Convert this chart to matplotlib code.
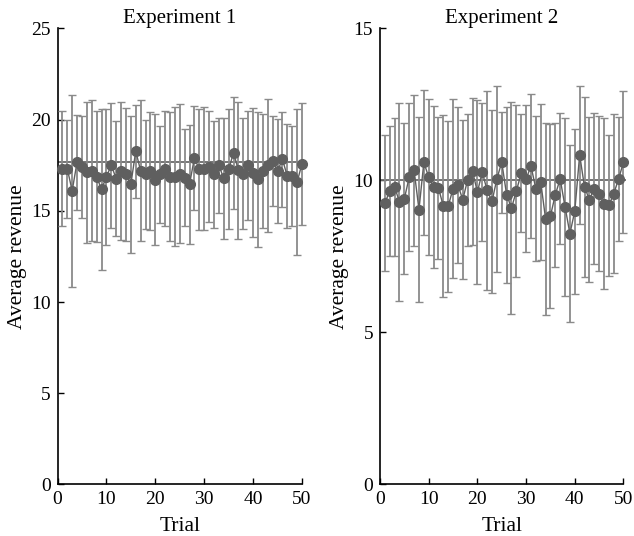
import numpy as np
import matplotlib
matplotlib.use("Agg")
import matplotlib.pyplot as plt

plt.rcParams['font.family'] = ['Liberation Serif', 'DejaVu Serif']
plt.rcParams['mathtext.fontset'] = 'stix'

trials = np.arange(1, 51)

# Experiment 1: mean revenue per trial and half-width of the error bar
exp1_mean = [17.3, 17.3, 16.1, 17.67, 17.4, 17.1, 17.2, 16.87, 16.17, 16.87,
             17.5, 16.76, 17.18, 17.0, 16.45, 18.27, 17.2, 17.0, 17.18, 16.7,
             17.0, 17.3, 16.87, 16.87, 17.03, 16.8, 16.45, 17.9, 17.27, 17.3,
             17.42, 17.0, 17.49, 16.78, 17.27, 18.18, 17.23, 17.03, 17.49, 17.09,
             16.72, 17.18, 17.49, 17.73, 17.18, 17.82, 16.9, 16.9, 16.57, 17.58]
exp1_err = [3.16, 2.68, 5.25, 2.6, 2.8, 3.85, 3.85, 3.6, 4.42, 3.73,
            3.43, 3.15, 3.77, 3.65, 3.75, 2.55, 3.88, 2.97, 3.22, 3.6,
            2.65, 3.15, 3.52, 3.8, 3.8, 2.66, 3.28, 2.83, 3.33, 3.37,
            3.03, 2.94, 2.59, 3.3, 3.29, 3.06, 3.75, 3.03, 3.0, 3.55,
            3.69, 3.11, 3.65, 2.44, 2.85, 2.61, 2.86, 2.76, 4.0, 3.35]
exp1_level = 17.65

# Experiment 2
exp2_mean = [9.26, 9.65, 9.78, 9.29, 9.4, 10.11, 10.33, 9.04, 10.59, 10.11,
             9.78, 9.76, 9.15, 9.15, 9.73, 9.84, 9.37, 10.02, 10.3, 9.62,
             10.27, 9.67, 9.31, 10.05, 10.6, 9.53, 9.09, 9.65, 10.24, 10.05,
             10.47, 9.73, 9.95, 8.74, 8.83, 9.53, 10.05, 9.13, 8.25, 8.99,
             10.84, 9.78, 9.37, 9.73, 9.56, 9.24, 9.18, 9.56, 10.05, 10.6]
exp2_err = [2.23, 2.14, 2.28, 3.25, 2.49, 2.43, 2.48, 3.05, 2.37, 2.56,
            2.67, 2.33, 3.0, 2.81, 2.95, 2.56, 2.6, 2.17, 2.41, 3.03,
            2.27, 3.28, 3.0, 3.06, 1.66, 2.9, 3.49, 2.83, 1.93, 2.42,
            2.38, 2.39, 2.56, 3.15, 3.01, 2.37, 2.15, 2.92, 2.92, 2.71,
            2.28, 2.96, 2.7, 2.47, 2.55, 2.82, 2.32, 2.61, 2.04, 2.34]
exp2_level = 10.0

panels = [
    ("Experiment 1", exp1_mean, exp1_err, exp1_level, 25, [0, 5, 10, 15, 20, 25]),
    ("Experiment 2", exp2_mean, exp2_err, exp2_level, 15, [0, 5, 10, 15]),
]

fig = plt.figure(figsize=(6.34, 5.36), dpi=100)
rects = [[0.0907, 0.0961, 0.3856, 0.851], [0.5994, 0.0961, 0.384, 0.851]]

for rect, (title, mean, err, level, ymax, yticks) in zip(rects, panels):
    ax = fig.add_axes(rect)
    ax.hlines(level, 0, 50.5, color='#6a6a6a', lw=1.3, zorder=2, clip_on=False)
    ax.errorbar(trials, mean, yerr=err, fmt='-o', color='#5f5f5f', ms=7,
                lw=1.0, ecolor='#8a8a8a', elinewidth=1.3, capsize=3,
                capthick=1.0, zorder=3, clip_on=False)
    ax.set_xlim(0, 50)
    ax.set_ylim(0, ymax)
    ax.set_xticks([0, 10, 20, 30, 40, 50])
    ax.set_yticks(yticks)
    ax.spines['top'].set_visible(False)
    ax.spines['right'].set_visible(False)
    ax.spines['left'].set_linewidth(1.2)
    ax.spines['bottom'].set_linewidth(1.2)
    ax.tick_params(direction='in', length=4, width=1, labelsize=14)
    ax.tick_params(axis='x', pad=5)
    ax.tick_params(axis='y', pad=5)
    ax.set_title(title, fontsize=15, pad=4)
    ax.set_xlabel("Trial", fontsize=15.5, labelpad=6)
    ax.set_ylabel("Average revenue", fontsize=15.5, labelpad=3)

fig.savefig("out.png", dpi=100)
